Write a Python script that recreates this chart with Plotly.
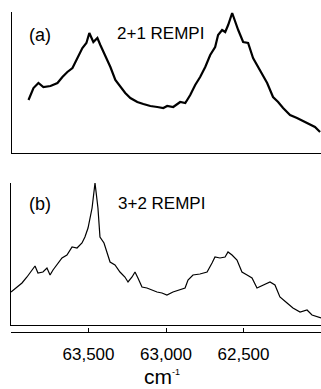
import plotly.graph_objects as go

# ---- data ----
wn_a = [63890, 63858, 63826, 63794, 63748, 63703, 63671, 63639, 63606, 63574, 63542, 63516,
        63497, 63471, 63445, 63426, 63394, 63361, 63329, 63297, 63265, 63232, 63187, 63148,
        63103, 63058, 63019, 62994, 62955, 62910, 62877, 62845, 62813, 62781, 62748, 62716,
        62684, 62665, 62639, 62619, 62600, 62574, 62555, 62535, 62503, 62471, 62439, 62394,
        62348, 62310, 62277, 62245, 62200, 62155, 62116, 62071, 62039, 62006]
int_a = [53, 65, 70, 66, 67, 70, 76, 81, 85, 95, 105, 110,
         120, 111, 115, 108, 98, 86, 73, 66, 60, 55, 51, 49,
         47, 46, 45, 47, 46, 51, 50, 58, 68, 76, 86, 98,
         106, 118, 123, 121, 128, 140, 131, 123, 111, 110, 95, 83,
         70, 56, 51, 45, 38, 35, 32, 29, 26, 21]

wn_b = [64000, 63961, 63929, 63897, 63865, 63845, 63826, 63794, 63768, 63748, 63729, 63697,
        63671, 63639, 63606, 63574, 63542, 63523, 63503, 63477, 63458, 63439, 63426, 63400,
        63381, 63361, 63329, 63297, 63265, 63245, 63219, 63200, 63181, 63155, 63123, 63090,
        63058, 63026, 62994, 62955, 62910, 62877, 62858, 62826, 62781, 62735, 62703, 62684,
        62652, 62619, 62600, 62574, 62542, 62510, 62477, 62445, 62413, 62374, 62329, 62297,
        62265, 62219, 62181, 62135, 62090, 62058, 62026, 62000]
int_b = [33, 38, 42, 48, 55, 59, 52, 53, 57, 50, 55, 62,
         67, 70, 78, 77, 82, 88, 97, 117, 142, 117, 88, 82,
         72, 63, 60, 53, 48, 43, 48, 53, 47, 38, 37, 35,
         33, 32, 30, 33, 35, 37, 45, 50, 51, 53, 62, 68,
         67, 68, 73, 70, 65, 53, 50, 47, 37, 40, 43, 40,
         28, 22, 17, 13, 15, 10, 8, 7]

tick_vals = [63500, 63000, 62500]
tick_text = ["63,500", "63,000", "62,500"]
labels_a = ["(a)", "2+1 REMPI"]
labels_b = ["(b)", "3+2 REMPI"]
x_title = "cm<sup><span style='font-size:9px'>-1</span></sup>"

W, H = 321, 389
def px(x):
    return x / W
def py(y):
    return 1 - y / H

FONT = "Liberation Sans"

fig = go.Figure()
fig.add_trace(go.Scatter(x=wn_a, y=int_a, mode="lines", xaxis="x", yaxis="y",
                         line=dict(color="black", width=2.2), showlegend=False, hoverinfo="skip"))
fig.add_trace(go.Scatter(x=wn_b, y=int_b, mode="lines", xaxis="x2", yaxis="y2",
                         line=dict(color="black", width=1.2), showlegend=False, hoverinfo="skip"))
# carrier trace for the separate tick scale axis
fig.add_trace(go.Scatter(x=[64000, 62000], y=[None, None], mode="lines", xaxis="x3", yaxis="y2",
                         showlegend=False, hoverinfo="skip"))

xr = [64000, 62000]
common_x = dict(range=xr, showgrid=False, zeroline=False, showline=True, linecolor="black",
                linewidth=1.3, ticks="", showticklabels=False, fixedrange=True)
common_y = dict(showgrid=False, zeroline=False, showline=True, linecolor="black",
                linewidth=1.3, ticks="", showticklabels=False, fixedrange=True)

fig.update_layout(
    width=W, height=H, margin=dict(l=0, r=0, t=0, b=0),
    paper_bgcolor="white", plot_bgcolor="white",
    font=dict(family=FONT, color="black"),
    xaxis=dict(domain=[px(11.5), 1], anchor="y", **common_x),
    yaxis=dict(domain=[py(153), py(12)], range=[0, 141], anchor="x", **common_y),
    xaxis2=dict(domain=[px(11), 1], anchor="y2", **common_x),
    yaxis2=dict(domain=[py(325), py(183)], range=[0, 142], anchor="x2", **common_y),
    xaxis3=dict(domain=[px(11), 1], anchor="free", overlaying="x2", position=py(332),
                range=xr, showgrid=False, zeroline=False, showline=True, linecolor="black",
                linewidth=1.3, ticks="inside", ticklen=4, tickwidth=1, tickcolor="black",
                tickvals=tick_vals, ticktext=tick_text, ticklabelstandoff=6,
                tickfont=dict(family=FONT, size=17, color="black"), fixedrange=True),
)

anns = [
    dict(x=px(40), y=py(34.5), text=labels_a[0], size=18, ya="middle"),
    dict(x=px(160), y=py(33.5), text=labels_a[1], size=17, ya="middle"),
    dict(x=px(39.5), y=py(204), text=labels_b[0], size=18, ya="middle"),
    dict(x=px(161.5), y=py(203.5), text=labels_b[1], size=17, ya="middle"),
]
for a in anns:
    fig.add_annotation(x=a["x"], y=a["y"], xref="paper", yref="paper", text=a["text"],
                       showarrow=False, xanchor="center", yanchor=a["ya"],
                       font=dict(family=FONT, size=a["size"], color="black"))
fig.add_annotation(x=px(143), y=py(389), xref="paper", yref="paper", text=x_title,
                   showarrow=False, xanchor="left", yanchor="bottom", borderpad=0,
                   font=dict(family=FONT, size=21, color="black"))

fig.write_html("out.html")
